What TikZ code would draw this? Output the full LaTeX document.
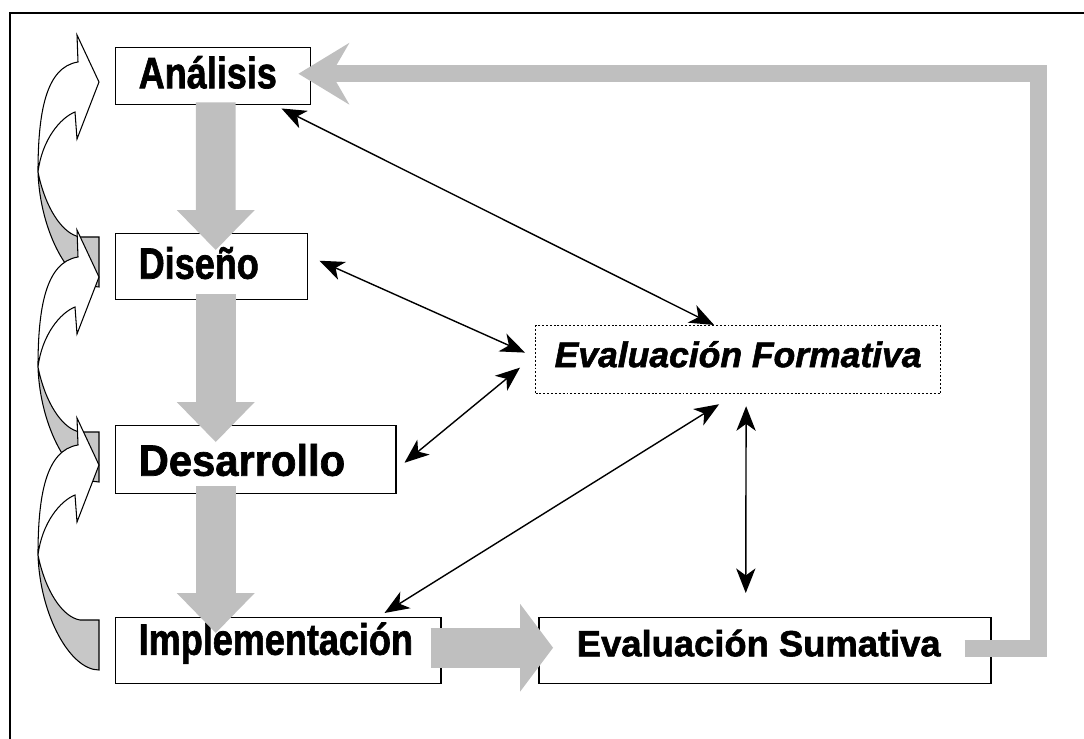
\documentclass[tikz,border=0pt]{standalone}
\usepackage{fontspec}
\usepackage{graphicx}
\setmainfont{Liberation Sans}
\newfontfamily\heavyfont{Liberation Sans}[FakeBold=1.6]
\usetikzlibrary{arrows.meta}

% one drawing unit
\newdimen\pxu
\pxu=0.02cm
\newcommand\narrowtext[2][0.82]{\scalebox{#1}[1]{#2}}

\tikzset{
  frameline/.style={line width=1.1pt},
  stagebox/.style n args={3}{draw, line width=0.85pt, fill=white, anchor=north west,
    inner xsep=23\pxu, inner ysep=0pt, text width=#1\pxu, minimum height=#2\pxu,
    align=left, text height=32\pxu, text depth=#3\pxu,
    font=\heavyfont\fontsize{25}{28}\selectfont\bfseries},
  sumbox/.style={draw, line width=0.85pt, fill=white, anchor=north west, inner sep=0pt,
    minimum width=452\pxu, minimum height=66\pxu, text height=27\pxu, text depth=16\pxu,
    font=\heavyfont\fontsize{20.7}{24}\selectfont\bfseries},
  formbox/.style={draw, line width=0.7pt, dash pattern=on 1.1pt off 1.1pt, fill=white,
    anchor=north west, inner sep=0pt, minimum width=405\pxu, minimum height=68\pxu,
    text height=25\pxu, text depth=10\pxu,
    font=\heavyfont\fontsize{20.2}{24}\selectfont\bfseries\itshape},
  bigflow/.style={draw=black!25, line width=0.8cm,
    -{Triangle[length=0.8cm, width=1.56cm, line width=0pt]}},
  sideflow/.style={draw=black!25, line width=0.8cm,
    -{Triangle[length=0.66cm, width=1.76cm, line width=0pt]}},
  backflow/.style={draw=black!25, line width=0.34cm, line join=miter,
    -{Stealth[length=1.02cm, width=1.24cm, inset=0.36cm, line width=0pt]}},
  link/.style={line width=0.8pt,
    {Stealth[length=14pt, width=11pt, inset=4pt]}-{Stealth[length=14pt, width=11pt, inset=4pt]}},
  bandback/.style={fill=black!22, draw=black, line width=0.6pt},
  bandfront/.style={fill=white, draw=black, line width=0.6pt},
}

% curved side arrow whose head points right at height #1
\newcommand\bendarrow[1]{%
  \path[bandback] (38,#1+90) .. controls (40,#1+150) and (70,#1+205) .. (99,#1+205)
    -- (99,#1+155) -- (80,#1+155)
    .. controls (62,#1+152) and (45,#1+125) .. (38,#1+90) -- cycle;
  \path[bandfront] (38,#1+90) .. controls (38,#1+30) and (46,#1-15) .. (78,#1-20)
    -- (77,#1-47) -- (99,#1) -- (77,#1+57) -- (75,#1+30)
    .. controls (60,#1+36) and (42,#1+58) .. (38,#1+90) -- cycle;
}

\begin{document}
\begin{tikzpicture}[x=0.02cm, y=-0.02cm]
  \useasboundingbox (0,0) rectangle (1084,739);

  % frame
  \draw[frameline] (10,739) -- (10,13) -- (1084,13);

  % stages
  \node[stagebox={149}{57}{8}]  (ana) at (115,47)  {\narrowtext{Análisis}};
  \node[stagebox={146}{66}{8}]  (dis) at (115,233) {\narrowtext{Diseño}};
  \node[stagebox={234}{68}{0}]  (des) at (115,425) {\narrowtext[0.95]{Desarrollo}};
  \node[stagebox={279}{66}{24}] (imp) at (115,617) {\narrowtext{Implementación}};
  \node[sumbox]  (sum)  at (538,617) {\hspace*{-12\pxu}Evaluación Sumativa};
  \node[formbox] (form) at (535,325) {Evaluación Formativa};

  % curved arrows on the left
  \bendarrow{82}
  \bendarrow{277}
  \bendarrow{465}

  % main flow
  \draw[bigflow] ([shift={(2.5,-3)}]ana.south) -- ([shift={(4,17)}]dis.north);
  \draw[bigflow] ([shift={(4,-6)}]dis.south) -- ([shift={(-40,17)}]des.north);
  \draw[bigflow] ([shift={(-40,-8)}]des.south) -- ([shift={(-62.5,16)}]imp.north);
  \draw[sideflow] ([shift={(-11,-3)}]imp.east) -- ([shift={(15,-3)}]sum.west);

  % feedback to the start
  \draw[backflow] ([shift={(-27,-2)}]sum.east) -- ++(74,0) |- ([shift={(-13,-2.5)}]ana.east);

  % formative evaluation links
  \draw[link] ([shift={(-30,3)}]ana.south east) -- ([shift={(-24,0)}]form.north);
  \draw[link] ([shift={(11,-6)}]dis.east) -- ([shift={(-10,-7)}]form.west);
  \draw[link] ([shift={(8,3)}]des.east) -- ([shift={(-15,8)}]form.west);
  \draw[link] ([shift={(-57,-4)}]imp.north east) -- ([shift={(-19,10)}]form.south);
  \draw[link] ([shift={(8,12)}]form.south) -- ([shift={(-19,-24)}]sum.north);
\end{tikzpicture}
\end{document}
